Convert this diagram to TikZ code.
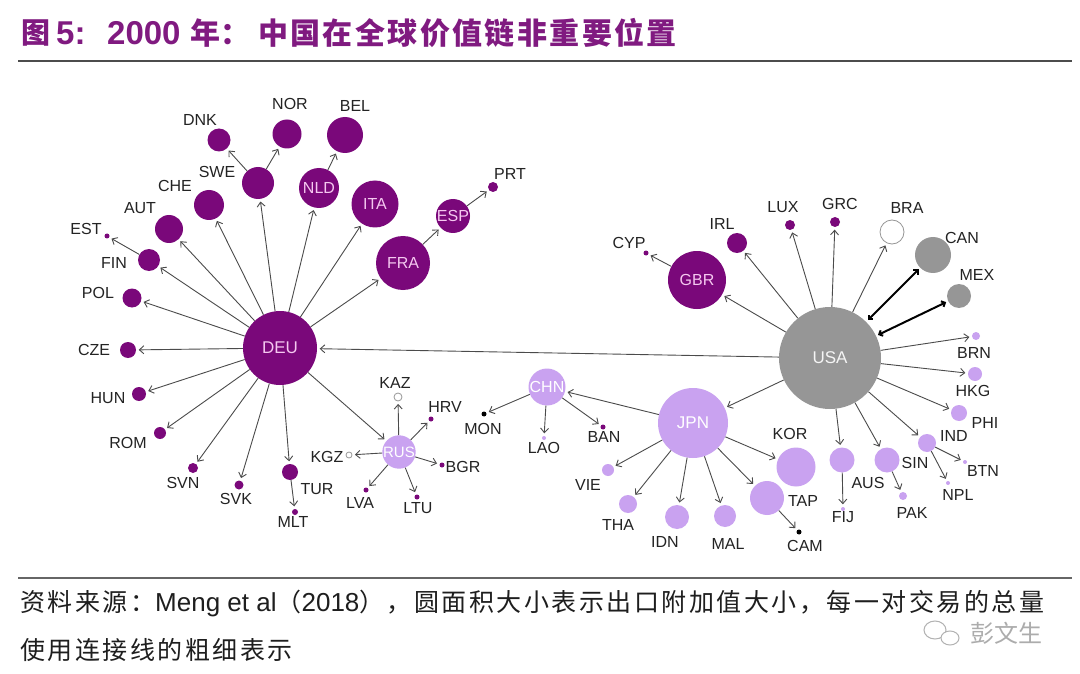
\documentclass[tikz,border=0pt]{standalone}
\usepackage{fontspec}
\setmainfont{Liberation Sans}
\newfontfamily\cjk{Noto Sans CJK SC}
\newfontfamily\cjkt{Noto Sans CJK SC}[LetterSpace=8]
\newfontfamily\cjkc{Noto Sans CJK SC}[LetterSpace=10]
\usetikzlibrary{arrows.meta}
\definecolor{dpur}{RGB}{122,8,122}
\definecolor{lpur}{RGB}{201,162,240}
\definecolor{gcol}{RGB}{150,150,150}
\definecolor{titlec}{RGB}{128,26,128}
\definecolor{linec}{RGB}{75,75,75}
\definecolor{labc}{RGB}{35,35,35}
\definecolor{pinkt}{RGB}{245,200,240}
\definecolor{capc}{RGB}{30,30,30}
\begin{document}
\begin{tikzpicture}[x=1pt,y=-1pt,
  cnode/.style={circle,inner sep=0pt,draw=none,font=\fontsize{16}{16}\selectfont},
  dp/.style={cnode,fill=dpur,text=pinkt},
  lp/.style={cnode,fill=lpur,text=white},
  gy/.style={cnode,fill=gcol,text=white!92!gray},
  hol/.style={circle,inner sep=0pt,draw=gcol,line width=0.8pt,fill=white},
  bk/.style={cnode,fill=black},
  lab/.style={inner sep=0pt,text=labc,font=\fontsize{16}{16}\selectfont},
  ttl/.style={anchor=west,inner sep=0pt,text=titlec},
  link/.style={draw=linec,line width=0.9pt,-{Straight Barb[length=4.5pt,width=8pt]},shorten >=2.5pt},
  dbl/.style={draw=black,line width=2pt,{Straight Barb[length=3pt,width=6pt]}-{Straight Barb[length=3pt,width=6pt]},shorten >=2pt,shorten <=2pt}
]
\useasboundingbox (0,0) rectangle (1080,674);
\fill[white] (0,0) rectangle (1080,674);

% title
\node[ttl,font=\cjk\bfseries\fontsize{29}{29}\selectfont] (t1) at (21,33) {图};
\node[ttl,font=\bfseries\fontsize{33}{33}\selectfont] (t2) at (56,33) {5:};
\node[ttl,font=\bfseries\fontsize{33}{33}\selectfont] (t3) at (107,33) {2000};
\node[ttl,font=\cjk\bfseries\fontsize{30}{30}\selectfont] (t4) at (190,33) {年：};
\node[ttl,font=\cjkt\bfseries\fontsize{30}{30}\selectfont] (t5) at (258,33) {中国在全球价值链非重要位置};
\draw[draw=black!70,line width=2.5pt] (18,61) -- (1072,61);
\draw[draw=black!60,line width=1.5pt] (18,578) -- (1072,578);

% caption
\node[anchor=west,inner sep=0pt,text=capc,font=\fontsize{25}{25}\selectfont] (cap1) at (20,603)
  {{\cjkc 资料来源：}{\fontsize{26}{26}\selectfont Meng et al}{\cjkc （}{\fontsize{26}{26}\selectfont 2018}{\cjkc ），圆面积大小表示出口附加值大小，每一对交易的总量}};
\node[anchor=west,inner sep=0pt,text=capc,font=\fontsize{25}{25}\selectfont] (cap2) at (20,650)
  {\cjkc 使用连接线的粗细表示};
% watermark
\draw[gray!60,line width=1pt] (935,630) ellipse (11 and 9);
\draw[gray!60,line width=1pt,fill=white] (950,638) ellipse (9 and 7);
\node[inner sep=0pt,text=gray!65,font=\cjk\fontsize{24}{24}\selectfont] (wm) at (1006,633) {彭文生};

% ---------- Europe (DEU cluster)
\node[dp,minimum size=74pt,font=\fontsize{17}{17}\selectfont] (DEU) at (280,348) {DEU};
\node[dp,minimum size=54pt] (FRA) at (403,263) {FRA};
\node[dp,minimum size=47pt] (ITA) at (375,204) {ITA};
\node[dp,minimum size=40pt] (NLD) at (319,188) {NLD};
\node[dp,minimum size=36pt] (BEL) at (345,135) {};
\node[dp,minimum size=34pt] (ESP) at (453,216) {ESP};
\node[dp,minimum size=10pt] (PRT) at (493,187) {};
\node[dp,minimum size=29pt] (NOR) at (287,134) {};
\node[dp,minimum size=23pt] (DNK) at (219,140) {};
\node[dp,minimum size=32pt] (SWE) at (258,183) {};
\node[dp,minimum size=30pt] (CHE) at (209,205) {};
\node[dp,minimum size=28pt] (AUT) at (169,229) {};
\node[dp,minimum size=22pt] (FIN) at (149,260) {};
\node[dp,minimum size=5pt] (EST) at (107,236) {};
\node[dp,minimum size=19pt] (POL) at (132,298) {};
\node[dp,minimum size=16pt] (CZE) at (128,350) {};
\node[dp,minimum size=14pt] (HUN) at (139,394) {};
\node[dp,minimum size=12pt] (ROM) at (160,433) {};
\node[dp,minimum size=10pt] (SVN) at (193,468) {};
\node[dp,minimum size=9pt] (SVK) at (239,485) {};
\node[dp,minimum size=16pt] (TUR) at (290,472) {};
\node[dp,minimum size=6pt] (MLT) at (295,512) {};

\node[lab] (lBEL) at (355,106) {BEL};
\node[lab] (lNOR) at (290,104) {NOR};
\node[lab] (lDNK) at (200,120) {DNK};
\node[lab] (lSWE) at (217,172) {SWE};
\node[lab] (lCHE) at (175,186) {CHE};
\node[lab] (lAUT) at (140,208) {AUT};
\node[lab] (lEST) at (86,229) {EST};
\node[lab] (lFIN) at (114,263) {FIN};
\node[lab] (lPOL) at (98,293) {POL};
\node[lab] (lCZE) at (94,350) {CZE};
\node[lab] (lHUN) at (108,398) {HUN};
\node[lab] (lROM) at (128,443) {ROM};
\node[lab] (lSVN) at (183,483) {SVN};
\node[lab] (lSVK) at (236,499) {SVK};
\node[lab] (lTUR) at (317,489) {TUR};
\node[lab] (lMLT) at (293,522) {MLT};
\node[lab] (lPRT) at (510,174) {PRT};

% ---------- RUS cluster
\node[lp,minimum size=29pt,font=\fontsize{15}{15}\selectfont] (RUS) at (399,452) {RUS};
\node[hol,minimum size=8pt] (KAZ) at (398,397) {};
\node[hol,minimum size=6pt] (KGZ) at (349,455) {};
\node[dp,minimum size=5pt] (HRV) at (431,419) {};
\node[dp,minimum size=5pt] (BGR) at (442,465) {};
\node[dp,minimum size=5pt] (LVA) at (366,490) {};
\node[dp,minimum size=5pt] (LTU) at (417,497) {};
\node[lab] (lKAZ) at (395,383) {KAZ};
\node[lab] (lHRV) at (445,407) {HRV};
\node[lab] (lKGZ) at (327,457) {KGZ};
\node[lab] (lBGR) at (463,467) {BGR};
\node[lab] (lLVA) at (360,503) {LVA};
\node[lab] (lLTU) at (418,508) {LTU};

% ---------- Asia
\node[lp,minimum size=70pt,font=\fontsize{17}{17}\selectfont] (JPN) at (693,423) {JPN};
\node[lp,minimum size=37pt] (CHN) at (547,387) {CHN};
\node[bk,minimum size=5pt] (MON) at (484,414) {};
\node[lp,minimum size=4pt] (LAO) at (544,438) {};
\node[dp,minimum size=5pt] (BAN) at (603,427) {};
\node[lp,minimum size=12pt] (VIE) at (608,470) {};
\node[lp,minimum size=18pt] (THA) at (628,504) {};
\node[lp,minimum size=24pt] (IDN) at (677,517) {};
\node[lp,minimum size=22pt] (MAL) at (725,516) {};
\node[lp,minimum size=39pt] (KOR) at (796,467) {};
\node[lp,minimum size=34pt] (TAP) at (767,498) {};
\node[bk,minimum size=5pt] (CAM) at (799,532) {};
\node[lp,minimum size=25pt] (AUS) at (842,460) {};
\node[lp,minimum size=25pt] (SIN) at (887,460) {};
\node[lp,minimum size=4pt] (FIJ) at (843,509) {};
\node[lp,minimum size=8pt] (PAK) at (903,496) {};
\node[lp,minimum size=18pt] (IND) at (927,443) {};
\node[lp,minimum size=4pt] (BTN) at (965,462) {};
\node[lp,minimum size=4pt] (NPL) at (948,483) {};
\node[lp,minimum size=16pt] (PHI) at (959,413) {};
\node[lp,minimum size=14pt] (HKG) at (975,374) {};
\node[lp,minimum size=8pt] (BRN) at (976,336) {};

\node[lab] (lMON) at (483,429) {MON};
\node[lab] (lLAO) at (544,448) {LAO};
\node[lab] (lBAN) at (604,437) {BAN};
\node[lab] (lVIE) at (588,485) {VIE};
\node[lab] (lTHA) at (618,525) {THA};
\node[lab] (lIDN) at (665,542) {IDN};
\node[lab] (lMAL) at (728,544) {MAL};
\node[lab] (lKOR) at (790,434) {KOR};
\node[lab] (lTAP) at (803,501) {TAP};
\node[lab] (lCAM) at (805,546) {CAM};
\node[lab] (lAUS) at (868,483) {AUS};
\node[lab] (lFIJ) at (843,517) {FIJ};
\node[lab] (lSIN) at (915,463) {SIN};
\node[lab] (lPAK) at (912,513) {PAK};
\node[lab] (lIND) at (954,436) {IND};
\node[lab] (lBTN) at (983,471) {BTN};
\node[lab] (lNPL) at (958,495) {NPL};
\node[lab] (lPHI) at (985,423) {PHI};
\node[lab] (lHKG) at (973,391) {HKG};
\node[lab] (lBRN) at (974,353) {BRN};

% ---------- Americas / USA cluster
\node[gy,minimum size=102pt,font=\fontsize{17}{17}\selectfont] (USA) at (830,358) {USA};
\node[gy,minimum size=36pt] (CAN) at (933,255) {};
\node[gy,minimum size=24pt] (MEX) at (959,296) {};
\node[hol,minimum size=24pt] (BRA) at (892,232) {};
\node[dp,minimum size=58pt] (GBR) at (697,280) {GBR};
\node[dp,minimum size=20pt] (IRL) at (737,243) {};
\node[dp,minimum size=10pt] (LUX) at (790,225) {};
\node[dp,minimum size=10pt] (GRC) at (835,222) {};
\node[dp,minimum size=5pt] (CYP) at (646,253) {};
\node[lab] (lCYP) at (629,243) {CYP};
\node[lab] (lIRL) at (722,224) {IRL};
\node[lab] (lLUX) at (783,207) {LUX};
\node[lab] (lGRC) at (840,204) {GRC};
\node[lab] (lBRA) at (907,208) {BRA};
\node[lab] (lCAN) at (962,238) {CAN};
\node[lab] (lMEX) at (977,275) {MEX};

% ---------- connectors
\foreach \t in {SWE,CHE,AUT,FIN,POL,CZE,HUN,ROM,SVN,SVK,TUR,NLD,ITA,FRA,RUS}
  \draw[link] (DEU) -- (\t);
\draw[link] (SWE) -- (DNK);
\draw[link] (SWE) -- (NOR);
\draw[link] (NLD) -- (BEL);
\draw[link] (FRA) -- (ESP);
\draw[link] (ESP) -- (PRT);
\draw[link] (FIN) -- (EST);
\draw[link] (TUR) -- (MLT);
\foreach \t in {KAZ,HRV,KGZ,BGR,LVA,LTU}
  \draw[link] (RUS) -- (\t);
\foreach \t in {DEU,GBR,IRL,LUX,GRC,BRA,BRN,HKG,PHI,IND,SIN,AUS,JPN}
  \draw[link] (USA) -- (\t);
\draw[dbl] (USA) -- (CAN);
\draw[dbl] (USA) -- (MEX);
\draw[link] (GBR) -- (CYP);
\foreach \t in {CHN,VIE,THA,IDN,MAL,KOR,TAP}
  \draw[link] (JPN) -- (\t);
\draw[link] (TAP) -- (CAM);
\foreach \t in {MON,LAO,BAN}
  \draw[link] (CHN) -- (\t);
\draw[link] (AUS) -- (FIJ);
\draw[link] (SIN) -- (PAK);
\draw[link] (IND) -- (BTN);
\draw[link] (IND) -- (NPL);
\end{tikzpicture}
\end{document}
